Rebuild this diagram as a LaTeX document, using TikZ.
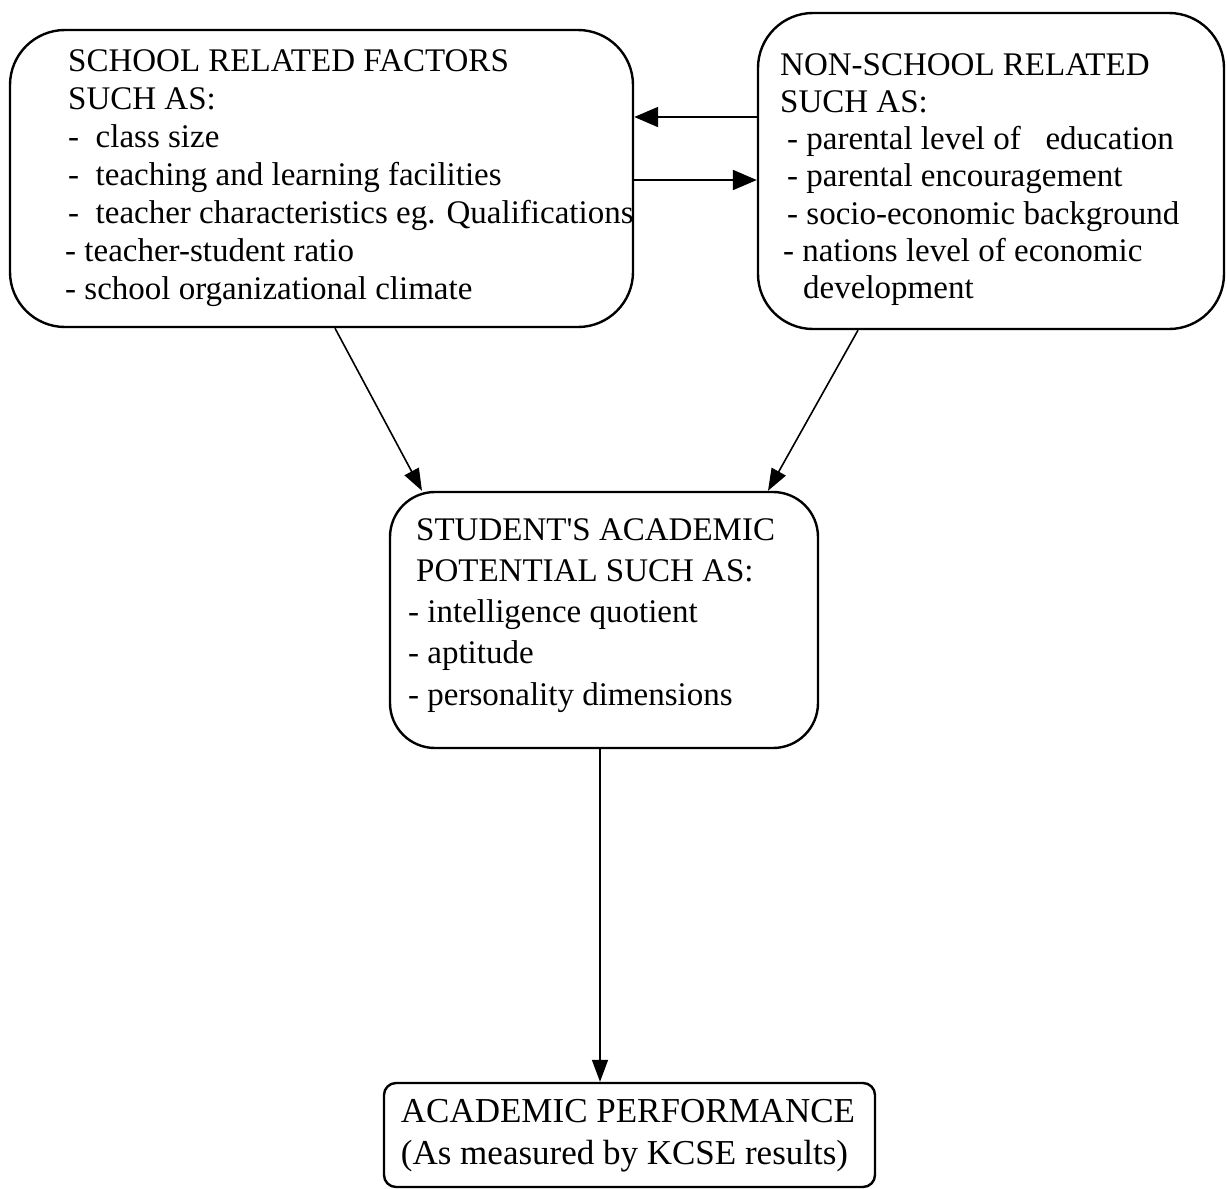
\documentclass[tikz,border=0pt]{standalone}
\usepackage{fontspec}
\setmainfont{Liberation Serif}
\usetikzlibrary{arrows.meta}
\tikzset{
  box/.style={draw, line width=2.4pt, rounded corners=#1, inner sep=0pt},
  txt/.style={inner sep=0pt, align=left, anchor=north west, font=\fontsize{33}{38}\selectfont},
  arr/.style={line width=2pt, -{Triangle[length=24pt,width=20pt]}},
  darr/.style={line width=1.6pt, -{Triangle[length=22pt,width=16pt]}}
}
\begin{document}
\begin{tikzpicture}[x=1pt,y=-1pt]
\useasboundingbox (0,0) rectangle (1227,1189);
% boxes
\node[box=55pt, minimum width=623pt, minimum height=297pt] (school) at (321.5,178.5) {};
\node[box=55pt, minimum width=466pt, minimum height=316pt] (nonschool) at (991,171) {};
\node[box=45pt, minimum width=428pt, minimum height=256pt] (student) at (604,620) {};
\node[box=12pt, minimum width=491pt, minimum height=104pt] (perf) at (629.5,1135) {};
% texts
\node[txt] (t1) at (68,49) {SCHOOL RELATED FACTORS\\
SUCH AS:\\
-\ \ class size\\
-\ \ teaching and learning facilities\\
-\ \ teacher characteristics eg. Qualifications\\
\hspace*{-3pt}- teacher-student ratio\\
\hspace*{-3pt}- school organizational climate};
\node[txt, font=\fontsize{33}{37.3}\selectfont] (t2) at (780,53) {NON-SCHOOL RELATED\\
SUCH AS:\\
\hspace*{7pt}- parental level of\ \ \ education\\
\hspace*{7pt}- parental encouragement\\
\hspace*{7pt}- socio-economic background\\
\hspace*{3pt}- nations level of economic\\
\hspace*{23pt}development};
\node[txt, font=\fontsize{33}{41.3}\selectfont] (t3) at (416,518) {STUDENT\textquotesingle S ACADEMIC\\
POTENTIAL SUCH AS:\\
\hspace*{-8pt}- intelligence quotient\\
\hspace*{-8pt}- aptitude\\
\hspace*{-8pt}- personality dimensions};
\node[txt, anchor=north, font=\fontsize{35}{42}\selectfont] (t4) at (628,1099) {ACADEMIC PERFORMANCE\\
(As measured by KCSE results)};
% connectors
\draw[arr] (nonschool.west |- 0,117) -- (school.east |- 0,117);
\draw[arr] (school.east |- 0,180) -- (nonschool.west |- 0,180);
\draw[darr] (school.south -| 335,0) -- (student.north -| 422,0);
\draw[darr] (nonschool.south -| 858,0) -- (student.north -| 768,0);
\draw[darr] (student.south -| 600,0) -- (perf.north -| 600,0);
\end{tikzpicture}
\end{document}
